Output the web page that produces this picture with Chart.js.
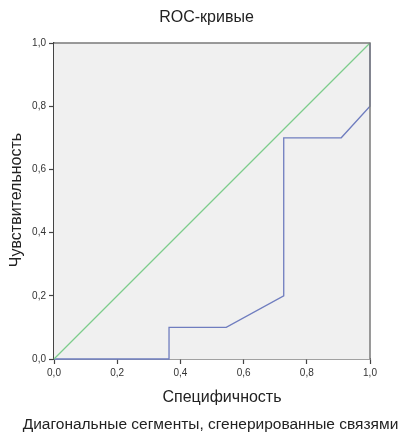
<!DOCTYPE html>
<html><head><meta charset="utf-8">
<script src="https://cdn.jsdelivr.net/npm/chart.js@4"></script>
<style>html,body{margin:0;padding:0;background:#fff}#wrap{width:417px;height:437px;position:relative}</style>
</head><body><div id="wrap"><canvas id="c" width="417" height="437"></canvas></div>
<script>
const rocX = [0, 0.364, 0.364, 0.545, 0.727, 0.727, 0.909, 1.0, 1.0];
const rocY = [0, 0, 0.1, 0.1, 0.2, 0.7, 0.7, 0.8, 1.0];
const refX = [0, 1];
const refY = [0, 1];
const tickValues = [0, 0.2, 0.4, 0.6, 0.8, 1.0];
const titleText = 'ROC-кривые';
const xTitle = 'Специфичность';
const yTitle = 'Чувствительность';
const footText = 'Диагональные сегменты, сгенерированные связями';

const FONT = '"Liberation Sans", Arial, Helvetica, sans-serif';
const fmt = v => v.toFixed(1).replace('.', ',');

const frame = {
  id: 'frame',
  beforeDatasetsDraw(chart) {
    const {ctx, chartArea: a} = chart;
    ctx.save();
    ctx.fillStyle = '#f0f0f0';
    ctx.fillRect(a.left, a.top, a.right - a.left, a.bottom - a.top);
    ctx.restore();
  },
  afterDraw(chart) {
    const {ctx, chartArea: a} = chart;
    ctx.save();
    ctx.strokeStyle = '#7a7a7a';
    ctx.lineWidth = 1.5;
    ctx.beginPath();
    ctx.moveTo(a.left, a.top); ctx.lineTo(a.right, a.top); ctx.lineTo(a.right, a.bottom);
    ctx.stroke();
    ctx.fillStyle = '#222';
    ctx.textAlign = 'center';
    ctx.textBaseline = 'middle';
    ctx.font = '16px ' + FONT;
    ctx.fillText(titleText, 206.5, 18);
    ctx.font = '16px ' + FONT;
    ctx.fillText(xTitle, 222, 398);
    ctx.font = '15.5px ' + FONT;
    ctx.fillText(footText, 210.5, 425);
    ctx.font = '16px ' + FONT;
    ctx.translate(17, 200);
    ctx.rotate(-Math.PI / 2);
    ctx.fillText(yTitle, 0, 0);
    ctx.restore();
  }
};

new Chart(document.getElementById('c'), {
  type: 'scatter',
  data: {
    datasets: [
      { data: refX.map((x, i) => ({x, y: refY[i]})), showLine: true, borderColor: '#7dcc8c', borderWidth: 1.3, pointRadius: 0, clip: false },
      { data: rocX.map((x, i) => ({x, y: rocY[i]})), showLine: true, borderColor: '#6f7dbf', borderWidth: 1.3, pointRadius: 0, clip: false }
    ]
  },
  options: {
    responsive: false,
    animation: false,
    events: [],
    layout: { padding: { left: 0, right: 47, top: 43, bottom: 0 } },
    plugins: { legend: { display: false }, tooltip: { enabled: false }, title: { display: false } },
    scales: {
      x: {
        type: 'linear', min: 0, max: 1,
        afterBuildTicks: s => { s.ticks = tickValues.map(v => ({value: v})); },
        afterFit: s => { s.height = 437 - 359; },
        ticks: { callback: v => fmt(v), font: { size: 10, family: FONT }, color: '#333', padding: 3, maxRotation: 0 },
        grid: { drawOnChartArea: false, drawTicks: true, tickLength: 5, color: '#444', tickWidth: 1.2 },
        border: { color: '#444', width: 1.5 }
      },
      y: {
        type: 'linear', min: 0, max: 1,
        afterBuildTicks: s => { s.ticks = tickValues.map(v => ({value: v})); },
        afterFit: s => { s.width = 54; },
        ticks: { callback: v => fmt(v), font: { size: 10, family: FONT }, color: '#333', padding: 3 },
        grid: { drawOnChartArea: false, drawTicks: true, tickLength: 5, color: '#444', tickWidth: 1.2 },
        border: { color: '#444', width: 1.5 }
      }
    }
  },
  plugins: [frame]
});
</script></body></html>
